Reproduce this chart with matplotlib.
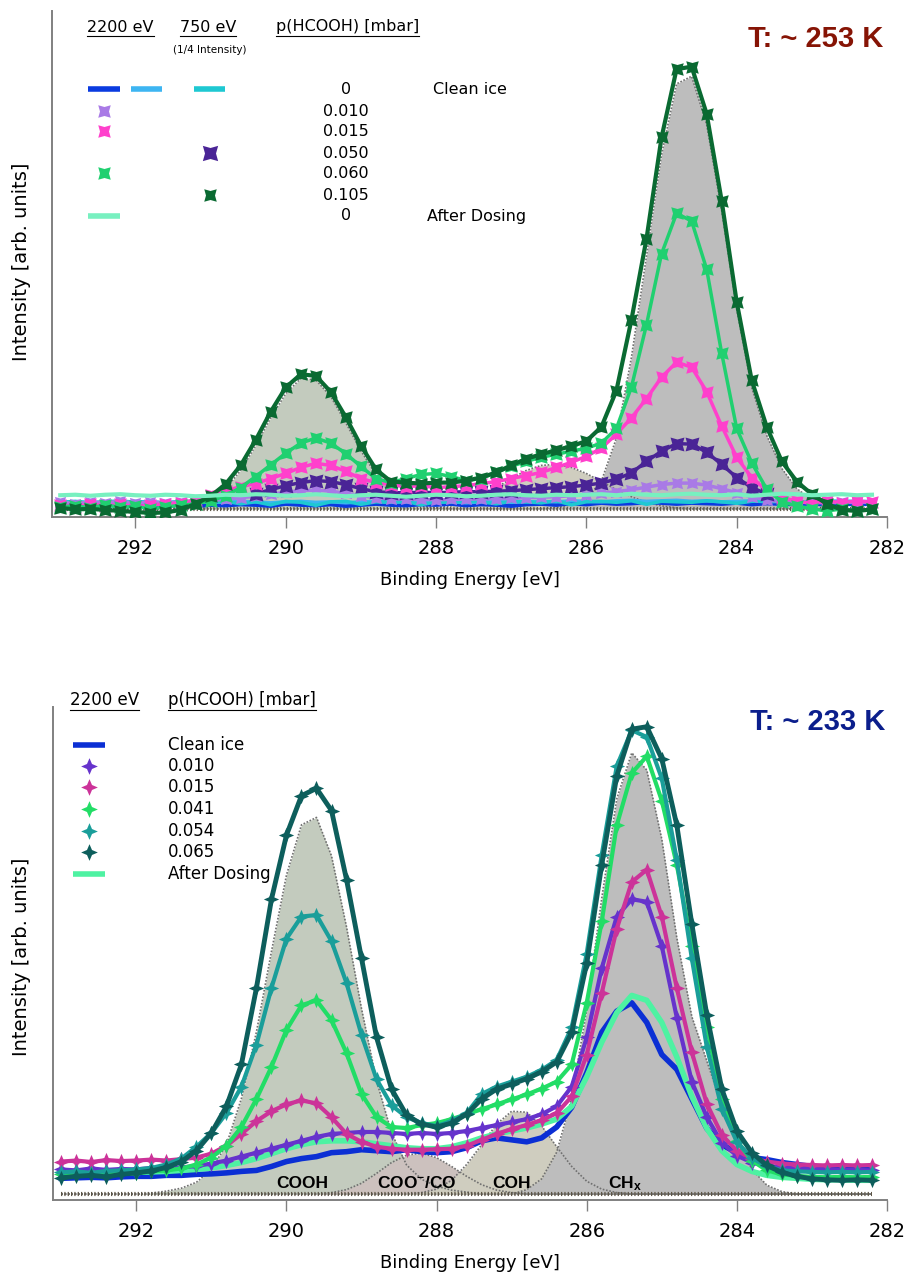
import numpy as np
import matplotlib.pyplot as plt
from matplotlib.path import Path
from matplotlib.transforms import Affine2D
from matplotlib.lines import Line2D

plt.rcParams['mathtext.fontset'] = 'custom'
plt.rcParams['mathtext.bf'] = 'Liberation Sans:bold'
plt.rcParams['mathtext.rm'] = 'Liberation Sans'

# binding energy grid [eV], 293.0 ... 282.2
energy = np.round(np.arange(293.0, 282.1, -0.2), 1)
nan = np.nan

# ---------------- top panel, T ~ 253 K ----------------
top_clean_2200 = [2.4, 2.3, 2.5, 2.4, 2.2, 2.4, 2.5, 2.3, 2.4, 2.2, 2.4,
                  2.3, 2.5, 2.4, 2.2, 2.6, 2.4, 2.3, 2.5, 2.2, 2.4, 2.6,
                  2.4, 2.3, 2.5, 2.4, 2.6, 2.3, 2.5, 2.4, 2.2, 2.5, 2.6,
                  2.4, 2.7, 2.5, 2.8, 2.6, 2.7, 2.9, 2.8, 2.6, 2.8, 2.7,
                  2.6, 2.8, 2.5, 2.7, 2.6, 2.5, 2.7, 2.4, 2.6, 2.5, 2.6]
top_clean_2200b = [2.9, 3.0, 2.8, 3.0, 2.9, 3.1, 2.9, 2.8, 3.0, 2.9, 3.0,
                   2.9, 3.1, 3.0, 2.8, 3.0, 3.1, 2.9, 3.0, 2.8, 3.0, 3.1,
                   2.9, 3.0, 3.1, 2.9, 3.0, 2.8, 3.0, 3.1, 2.9, 3.0, 3.1,
                   3.0, 3.2, 3.1, 3.0, 3.2, 3.3, 3.1, 3.2, 3.3, 3.1, 3.2,
                   3.0, 3.1, 3.2, 3.0, 3.1, 2.9, 3.1, 3.0, 3.2, 3.0, 3.1]
top_clean_750 = [2.9, 3.1, 2.8, 3.0, 3.2, 2.9, 3.0, 2.8, 3.1, 3.0, 2.9,
                 3.1, 2.6, 3.0, 2.4, 3.1, 2.9, 2.3, 3.0, 3.1, 2.5, 3.0,
                 2.9, 3.1, 2.4, 3.0, 2.9, 3.1, 3.0, 2.6, 3.1, 3.0, 2.8,
                 3.2, 2.4, 3.0, 3.1, 2.9, 3.2, 2.5, 3.1, 3.0, 2.9, 3.2,
                 3.0, 2.7, 3.1, 3.2, 3.0, 3.1, 2.9, 3.2, 3.0, 3.1, 3.0]
top_p010 = [3.0, 2.6, 3.0, 2.8, 3.1, 2.7, 3.0, 2.8, 3.0, 3.1, 3.3,
            3.5, 3.8, 4.1, 4.5, 4.9, 5.2, 5.3, 5.1, 4.7, 4.2, 3.8,
            3.6, 3.5, 3.5, 3.4, 3.5, 3.5, 3.6, 3.6, 3.7, 3.8, 3.9,
            4.0, 4.2, 4.4, 4.7, 5.0, 5.4, 5.9, 6.4, 6.7, 6.7, 6.3,
            5.6, 4.8, 4.0, 3.4, 3.0, 2.8, 3.0, 2.7, 3.0, 2.8, 3.0]
top_p015 = [2.4, 2.0, 2.6, 2.2, 2.5, 2.0, 2.4, 2.6, 2.8, 3.4, 4.3,
            5.2, 6.0, 6.6, 7.6, 8.6, 9.8, 10.6, 10.2, 9.0, 7.6, 6.8,
            6.4, 6.0, 6.2, 5.8, 6.0, 6.2, 6.6, 7.0, 7.6, 8.2, 8.8,
            9.8, 10.8, 12.0, 13.6, 16.4, 19.6, 23.4, 27.6, 30.6, 29.6, 24.8,
            18.0, 11.8, 7.8, 5.2, 3.8, 3.2, 2.6, 3.2, 2.8, 3.2, 2.9]
top_p050 = [nan, nan, nan, nan, nan, nan, nan, nan, nan, nan, nan,
            nan, nan, 4.6, 5.4, 6.2, 6.8, 7.2, 7.0, 6.4, 5.6, 5.0,
            4.8, 4.8, 4.9, 4.8, 4.9, 5.0, 5.0, 5.1, 5.2, 5.4, 5.6,
            5.8, 6.0, 6.3, 6.7, 7.5, 8.7, 11.0, 13.0, 14.5, 14.4, 12.8,
            10.4, 7.8, 5.8, 4.6, nan, nan, nan, nan, nan, nan, nan]
top_p060 = [2.0, 2.2, 1.8, 2.4, 1.9, 2.1, 1.6, 2.0, 2.3, 2.6, 3.2,
            4.2, 5.8, 8.0, 10.3, 12.6, 14.6, 15.6, 14.6, 12.5, 10.0, 7.6,
            6.8, 7.6, 8.4, 8.6, 8.0, 7.2, 7.6, 8.8, 10.0, 11.0, 11.8,
            12.4, 13.0, 13.6, 14.6, 17.5, 25.7, 38.0, 52.0, 60.0, 58.5, 49.0,
            32.4, 17.5, 10.7, 5.5, 3.0, 2.2, 1.6, 1.2, 1.6, 1.2, 1.5]
top_p105 = [1.8, 1.5, 1.6, 1.4, 1.2, 1.0, 0.8, 0.9, 1.4, 2.6, 4.1,
            6.5, 10.2, 15.2, 20.8, 25.6, 28.2, 27.9, 24.7, 19.7, 14.1, 9.4,
            7.0, 6.8, 6.6, 6.8, 6.8, 7.2, 7.8, 8.8, 10.2, 11.5, 12.4,
            13.2, 14.0, 15.0, 17.8, 25.0, 39.0, 55.0, 75.0, 88.5, 89.0, 79.7,
            62.5, 42.5, 27.0, 17.8, 11.0, 7.0, 4.5, 2.6, 1.4, 1.2, 1.5]
top_after = [4.3, 4.4, 4.2, 4.4, 4.5, 4.3, 4.2, 4.4, 4.3, 4.1, 4.2,
             4.4, 4.3, 4.5, 4.4, 4.2, 4.3, 4.5, 4.3, 4.1, 4.3, 4.4,
             4.2, 4.0, 4.2, 4.4, 4.3, 4.1, 4.2, 4.4, 4.5, 4.3, 4.2,
             4.4, 4.3, 4.4, 4.5, 4.3, 4.6, 4.4, 4.3, 4.5, 4.6, 4.4,
             4.3, 4.5, 4.2, 4.4, 4.6, 4.5, 4.3, 4.4, 4.5, 4.3, 4.4]
# fitted components (height above fit baseline)
top_fit_base = 1.6
top_cooh = [0, 0, 0, 0, 0, 0, 0, 0, 0.3, 0.7, 1.8,
            4.0, 7.6, 12.5, 18.0, 22.8, 25.8, 25.5, 22.2, 17.0, 11.5, 6.8,
            3.5, 1.6, 0.6, 0.2, 0, 0, 0, 0, 0, 0, 0,
            0, 0, 0, 0, 0, 0, 0, 0, 0, 0, 0,
            0, 0, 0, 0, 0, 0, 0, 0, 0, 0, 0]
top_coh = [0, 0, 0, 0, 0, 0, 0, 0, 0, 0, 0,
           0, 0, 0, 0, 0, 0, 0, 0, 0, 0, 0,
           0, 0, 0, 0.2, 0.6, 1.4, 2.6, 4.2, 6.0, 7.6, 8.6,
           8.8, 8.2, 7.0, 5.4, 3.8, 2.4, 1.3, 0.6, 0.2, 0, 0,
           0, 0, 0, 0, 0, 0, 0, 0, 0, 0, 0]
top_chx = [0, 0, 0, 0, 0, 0, 0, 0, 0, 0, 0,
           0, 0, 0, 0, 0, 0, 0, 0, 0, 0, 0,
           0, 0, 0, 0, 0, 0, 0, 0, 0, 0, 0,
           0.3, 0.8, 2.0, 5.5, 14.0, 30.0, 50.0, 70.0, 84.0, 85.5, 76.0,
           59.0, 39.5, 24.0, 14.5, 8.0, 4.0, 1.8, 0.6, 0.2, 0, 0]

# ---------------- bottom panel, T ~ 233 K ----------------
bot_clean = [4.4, 4.5, 4.6, 4.5, 4.7, 4.8, 4.8, 5.0, 5.0, 5.2, 5.3,
             5.5, 5.8, 6.0, 6.8, 7.8, 8.4, 8.8, 9.6, 9.8, 10.2, 10.0,
             9.8, 10.2, 9.8, 9.6, 9.8, 10.6, 12.0, 12.6, 12.2, 11.8, 12.6,
             14.8, 18.8, 25.8, 34.0, 38.3, 40.0, 36.0, 29.5, 26.5, 20.5, 14.5,
             11.2, 9.6, 8.6, 8.2, 7.6, 7.2, 6.8, 6.6, 6.4, 6.3, 6.2]
bot_after = [5.0, 5.1, 5.2, 5.3, 5.4, 5.6, 5.7, 5.8, 6.0, 6.2, 6.5,
             7.0, 7.6, 8.4, 9.4, 10.4, 11.2, 11.8, 12.0, 12.0, 11.8, 11.4,
             11.0, 10.6, 10.4, 10.4, 10.8, 11.6, 12.6, 13.4, 14.0, 14.6, 15.4,
             16.4, 19.0, 25.0, 32.0, 38.0, 41.5, 40.5, 36.0, 29.0, 21.0, 14.5,
             10.0, 7.2, 5.8, 5.0, 4.6, 4.4, 4.2, 4.1, 4.1, 4.0, 4.0]
bot_p010 = [6.2, 6.0, 6.4, 6.1, 6.3, 6.2, 6.5, 6.4, 6.6, 6.9, 7.4,
            8.0, 8.8, 9.6, 10.4, 11.2, 12.0, 12.8, 13.4, 13.6, 13.8, 13.8,
            13.6, 13.4, 13.6, 13.4, 13.6, 14.0, 14.6, 15.2, 15.8, 16.4, 17.4,
            19.0, 23.0, 33.0, 47.0, 57.5, 61.0, 60.5, 51.5, 37.0, 24.0, 16.8,
            11.6, 9.0, 7.6, 7.0, 6.6, 6.4, 6.3, 6.2, 6.1, 6.1, 6.0]
bot_p015 = [7.8, 8.0, 7.7, 8.1, 7.9, 8.0, 8.2, 8.0, 8.3, 8.6, 9.4,
            11.0, 13.4, 16.0, 18.0, 19.4, 20.2, 19.6, 16.8, 13.4, 11.8, 10.8,
            10.4, 10.2, 10.2, 10.3, 10.4, 11.0, 12.2, 13.4, 14.4, 15.2, 16.2,
            17.6, 21.0, 29.5, 42.0, 55.0, 64.5, 67.0, 57.5, 43.0, 30.0, 19.5,
            13.2, 10.0, 8.4, 7.8, 7.4, 7.2, 7.1, 7.0, 7.1, 7.0, 7.1]
bot_p041 = [5.2, 5.0, 5.4, 5.1, 5.5, 5.4, 5.8, 6.0, 6.4, 7.2, 8.6,
            11.0, 14.8, 20.5, 27.0, 34.5, 39.5, 40.5, 36.5, 29.8, 21.5, 16.8,
            14.8, 14.6, 15.2, 15.6, 16.4, 17.4, 18.4, 19.4, 20.4, 21.4, 22.6,
            24.0, 27.5, 40.0, 56.5, 76.0, 86.6, 90.0, 81.0, 68.0, 51.5, 35.0,
            20.5, 12.0, 8.0, 6.0, 5.2, 4.9, 4.7, 4.6, 4.7, 4.6, 4.7]
bot_p054 = [5.6, 5.8, 5.5, 5.9, 6.0, 6.2, 6.5, 7.2, 8.4, 10.8, 13.6,
            17.6, 23.0, 31.5, 43.0, 53.0, 57.5, 57.8, 52.5, 44.0, 33.5, 24.5,
            19.2, 16.8, 15.6, 15.0, 16.0, 17.6, 21.5, 23.0, 24.0, 25.0, 26.4,
            28.4, 35.0, 50.0, 70.0, 88.0, 95.3, 93.9, 85.5, 69.0, 49.0, 31.0,
            18.5, 11.8, 8.5, 6.8, 6.0, 5.8, 5.7, 5.6, 5.7, 5.6, 5.7]
bot_p065 = [4.5, 4.8, 5.0, 4.7, 5.2, 5.5, 5.9, 6.6, 7.8, 10.0, 13.6,
            19.0, 27.5, 43.0, 61.0, 74.0, 82.0, 83.5, 79.0, 65.0, 49.0, 33.0,
            22.5, 17.2, 15.4, 14.8, 15.6, 17.4, 20.5, 22.5, 23.5, 24.6, 26.0,
            28.0, 34.0, 48.0, 68.0, 86.0, 95.5, 96.0, 89.5, 76.0, 56.0, 37.5,
            22.5, 14.0, 9.6, 7.0, 5.6, 4.8, 4.3, 4.1, 4.0, 4.1, 4.0]
bot_fit_base = 1.2
bot_cooh = [0, 0, 0, 0, 0, 0, 0.2, 0.6, 1.2, 2.4, 5.0,
            10.0, 19.4, 32.9, 49.2, 64.7, 74.9, 76.4, 68.6, 54.2, 37.6, 23.0,
            12.4, 5.9, 3.0, 1.6, 0.8, 0.4, 0, 0, 0, 0, 0,
            0, 0, 0, 0, 0, 0, 0, 0, 0, 0, 0,
            0, 0, 0, 0, 0, 0, 0, 0, 0, 0, 0]
bot_coo = [0, 0, 0, 0, 0, 0, 0, 0, 0, 0, 0,
           0, 0, 0, 0, 0, 0, 0, 0.3, 0.9, 2.2, 4.2,
           6.4, 7.9, 8.3, 7.4, 5.6, 3.6, 1.9, 0.8, 0.3, 0, 0,
           0, 0, 0, 0, 0, 0, 0, 0, 0, 0, 0,
           0, 0, 0, 0, 0, 0, 0, 0, 0, 0, 0]
bot_coh = [0, 0, 0, 0, 0, 0, 0, 0, 0, 0, 0,
           0, 0, 0, 0, 0, 0, 0, 0, 0, 0, 0,
           0, 0, 0.3, 1.0, 2.8, 6.0, 10.0, 14.2, 16.8, 16.6, 13.8,
           9.6, 5.6, 2.6, 1.0, 0.3, 0, 0, 0, 0, 0, 0,
           0, 0, 0, 0, 0, 0, 0, 0, 0, 0, 0]
bot_chx = [0, 0, 0, 0, 0, 0, 0, 0, 0, 0, 0,
           0, 0, 0, 0, 0, 0, 0, 0, 0, 0, 0,
           0, 0, 0, 0, 0, 0, 0, 0, 0, 0.9, 3.1,
           8.5, 19.5, 37.5, 60.0, 80.2, 89.5, 86.0, 72.0, 52.0, 36.0, 27.0,
           18.0, 10.5, 5.0, 1.8, 0.5, 0, 0, 0, 0, 0, 0]

top_rows = ['0', '0.010', '0.015', '0.050', '0.060', '0.105', '0']
bot_rows = ['Clean ice', '0.010', '0.015', '0.041', '0.054', '0.065', 'After Dosing']

# 4-point star markers
plus_star = Path([(0, 1), (0.3, 0.3), (1, 0), (0.3, -0.3), (0, -1),
                  (-0.3, -0.3), (-1, 0), (-0.3, 0.3), (0, 1)],
                 [Path.MOVETO] + [Path.LINETO] * 7 + [Path.CLOSEPOLY])
x_star = Path([(0, 1), (0.36, 0.36), (1, 0), (0.36, -0.36), (0, -1),
               (-0.36, -0.36), (-1, 0), (-0.36, 0.36), (0, 1)],
              [Path.MOVETO] + [Path.LINETO] * 7 + [Path.CLOSEPOLY]
              ).transformed(Affine2D().rotate_deg(45))

W, H = 915, 1275
fig = plt.figure(figsize=(W / 100, H / 100), dpi=100)


def fx(px):
    return px / W


def fy(py):
    return 1 - py / H


ax1 = fig.add_axes([fx(52), fy(517), fx(887) - fx(52), fy(11) - fy(517)])
ax2 = fig.add_axes([fx(53), fy(1200), fx(887) - fx(53), fy(707) - fy(1200)])

for ax in (ax1, ax2):
    ax.set_xlim(293.11, 282)
    ax.set_ylim(0, 100)
    ax.set_xticks([292, 290, 288, 286, 284, 282])
    ax.set_yticks([])
    ax.spines['top'].set_visible(False)
    ax.spines['right'].set_visible(False)
    for s in ('left', 'bottom'):
        ax.spines[s].set_color('#808080')
        ax.spines[s].set_linewidth(1.4)
    ax.tick_params(axis='x', direction='out', length=8, width=1,
                   color='#808080', labelsize=14, pad=8)
    ax.set_xlabel('Binding Energy [eV]', fontsize=13, labelpad=9)


def component(ax, comp, base, color):
    top = base + np.asarray(comp, dtype=float)
    ax.fill_between(energy, base, top, color=color, lw=0, zorder=1)
    ax.plot(energy, top, color='#707070', lw=1.2, ls=(0, (1, 1)), zorder=1.5)


def baseline(ax, base):
    ax.plot(energy, np.full(len(energy), base), color='#5e5646', lw=3,
            ls=(0, (0.3, 0.5)), zorder=1.6)


# ---- top panel ----
component(ax1, top_cooh, top_fit_base, '#c3cbbe')
component(ax1, top_coh, top_fit_base, '#cfcdbf')
component(ax1, top_chx, top_fit_base, '#bdbdbd')
baseline(ax1, top_fit_base)

ax1.plot(energy, top_clean_2200, color='#0a3be0', lw=3, zorder=2)
ax1.plot(energy, top_clean_2200b, color='#3db5f2', lw=2.5, zorder=2)
ax1.plot(energy, top_clean_750, color='#1ec8d2', lw=2.5, zorder=2)
ax1.plot(energy, top_p010, color='#a97ae6', lw=2.5, marker=x_star, ms=8, mew=0, zorder=3)
ax1.plot(energy, top_p050, color='#4a2496', lw=2.5, marker=x_star, ms=10, mew=0, zorder=3)
ax1.plot(energy, top_p015, color='#ff40cc', lw=2.5, marker=x_star, ms=9, mew=0, zorder=3)
ax1.plot(energy, top_p060, color='#20d070', lw=2.5, marker=x_star, ms=9, mew=0, zorder=3)
ax1.plot(energy, top_p105, color='#0a6a32', lw=3, marker=x_star, ms=9, mew=0, zorder=3)
ax1.plot(energy, top_after, color='#78f0c0', lw=3, zorder=3.5)

fig.text(fx(883), fy(39), 'T: ~ 253 K', color='#861405', fontsize=21,
         fontweight='bold', family='Liberation Sans', ha='right', va='center')

# ---- bottom panel ----
component(ax2, bot_cooh, bot_fit_base, '#c3cbbe')
component(ax2, bot_coo, bot_fit_base, '#ccc1be')
component(ax2, bot_coh, bot_fit_base, '#cfcdbf')
component(ax2, bot_chx, bot_fit_base, '#bdbdbd')
baseline(ax2, bot_fit_base)

lab = dict(fontsize=12.5, fontweight='bold', family='Liberation Sans',
           ha='center', va='center', zorder=2.5)
ax2.text(289.79, 3.4, 'COOH', **lab)
ax2.text(288.27, 3.4, r'$\mathbf{COO^{-}/CO}$', **lab)
ax2.text(287.0, 3.4, 'COH', **lab)
ax2.text(285.49, 3.4, r'$\mathbf{CH_{x}}$', **lab)

ax2.plot(energy, bot_clean, color='#0b2fd4', lw=4, zorder=2)
ax2.plot(energy, bot_after, color='#4ef2a2', lw=4, zorder=2.2)
ax2.plot(energy, bot_p010, color='#6633cc', lw=3, marker=plus_star, ms=11, mew=0, zorder=3)
ax2.plot(energy, bot_p015, color='#cc3399', lw=3, marker=plus_star, ms=11, mew=0, zorder=3)
ax2.plot(energy, bot_p041, color='#22dd66', lw=3, marker=plus_star, ms=11, mew=0, zorder=3)
ax2.plot(energy, bot_p054, color='#1a9e9a', lw=3, marker=plus_star, ms=11, mew=0, zorder=3)
ax2.plot(energy, bot_p065, color='#0d5e5c', lw=3.5, marker=plus_star, ms=11, mew=0, zorder=3)

fig.text(fx(885), fy(722), 'T: ~ 233 K', color='#0b1e8c', fontsize=21,
         fontweight='bold', family='Liberation Sans', ha='right', va='center')

# y labels
for yc in (262, 957):
    fig.text(fx(22), fy(yc), 'Intensity [arb. units]', fontsize=14,
             rotation=90, ha='center', va='center')


# ---- hand-laid legends ----
def leg_line(x0, x1, y, color, lw=4):
    fig.add_artist(Line2D([fx(x0), fx(x1)], [fy(y), fy(y)], color=color,
                          lw=lw, solid_capstyle='butt'))


def leg_marker(x, y, color, marker, ms):
    fig.add_artist(Line2D([fx(x)], [fy(y)], color=color, marker=marker,
                          ms=ms, mew=0, ls='none'))


headers = []
size = 11.5
headers.append(fig.text(fx(87), fy(27), '2200 eV', fontsize=size, va='center'))
headers.append(fig.text(fx(180), fy(27), '750 eV', fontsize=size, va='center'))
headers.append(fig.text(fx(276), fy(27), 'p(HCOOH) [mbar]', fontsize=size, va='center'))
fig.text(fx(210), fy(50), '(1/4 Intensity)', fontsize=7.5, ha='center', va='center')

top_y = [89, 111, 131, 153, 173, 195, 216]
for s, y in zip(top_rows, top_y):
    fig.text(fx(346), fy(y), s, fontsize=size, ha='center', va='center')
fig.text(fx(433), fy(89), 'Clean ice', fontsize=size, va='center')
fig.text(fx(427), fy(216), 'After Dosing', fontsize=size, va='center')
leg_line(88, 120, 89, '#0a3be0')
leg_line(131, 162, 89, '#3db5f2')
leg_line(194, 225, 89, '#1ec8d2')
leg_line(88, 120, 216, '#78f0c0')
leg_marker(104, 111, '#a97ae6', x_star, 9)
leg_marker(104, 131, '#ff40cc', x_star, 9)
leg_marker(210, 153, '#4a2496', x_star, 11)
leg_marker(104, 173, '#20d070', x_star, 9)
leg_marker(210, 195, '#0a6a32', x_star, 9)

size2 = 12
headers.append(fig.text(fx(70), fy(700), '2200 eV', fontsize=size2, va='center'))
headers.append(fig.text(fx(168), fy(700), 'p(HCOOH) [mbar]', fontsize=size2, va='center'))
bot_y = [745, 766, 787, 809, 831, 852, 874]
for s, y in zip(bot_rows, bot_y):
    fig.text(fx(168), fy(y), s, fontsize=size2, va='center')
leg_line(73, 105, 745, '#0b2fd4')
leg_line(73, 105, 874, '#4ef2a2')
for c, y in zip(['#6633cc', '#cc3399', '#22dd66', '#1a9e9a', '#0d5e5c'], bot_y[1:6]):
    leg_marker(89, y, c, plus_star, 12)

# underline the column headers
renderer = fig.canvas.get_renderer()
for t in headers:
    bb = t.get_window_extent(renderer)
    fig.add_artist(Line2D([bb.x0 / W, bb.x1 / W], [(bb.y0 - 1) / H] * 2,
                          color='black', lw=0.8))

fig.savefig('out.png', dpi=100)
